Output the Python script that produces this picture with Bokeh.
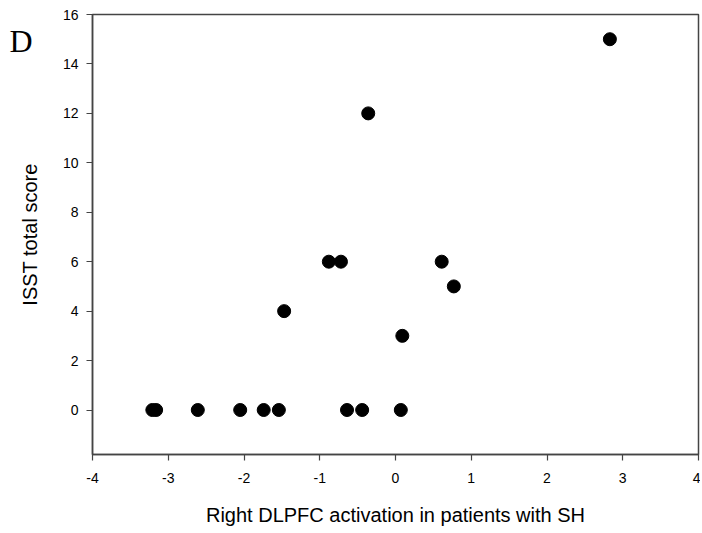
from bokeh.plotting import figure
from bokeh.models import Range1d, FixedTicker, LinearAxis
from bokeh.embed import file_html
from bokeh.resources import INLINE

# Data
activation = [-3.21, -3.16, -2.61, -2.05, -1.74, -1.54, -1.47, -0.88, -0.72,
              -0.64, -0.44, -0.36, 0.07, 0.09, 0.61, 0.77, 2.83]
isst_score = [0, 0, 0, 0, 0, 0, 4, 6, 6,
              0, 0, 12, 0, 3, 6, 5, 15]
x_ticks = [-4, -3, -2, -1, 0, 1, 2, 3, 4]
y_ticks = [0, 2, 4, 6, 8, 10, 12, 14, 16]
panel_letter = "D"
panel_letter_y = 14.93

FONT = "Liberation Sans"

p = figure(width=700, height=530, output_backend="svg", toolbar_location=None,
           x_range=Range1d(-4, 4), y_range=Range1d(-1.8, 16),
           min_border_left=92, min_border_right=2, min_border_top=14,
           min_border_bottom=76)

p.scatter(activation, isst_score, size=13, color="black")

p.xgrid.visible = False
p.ygrid.visible = False
p.outline_line_color = "#444444"
p.outline_line_width = 1.5
p.background_fill_color = "white"
p.border_fill_color = "white"

for ax in (p.xaxis[0], p.yaxis[0]):
    ax.axis_line_color = "#444444"
    ax.axis_line_width = 1.5
    ax.major_tick_line_color = "#444444"
    ax.major_tick_line_width = 1.2
    ax.major_tick_out = 6
    ax.major_tick_in = 0
    ax.minor_tick_line_color = None
    ax.major_label_text_font = FONT
    ax.major_label_text_font_size = "14px"
    ax.major_label_text_color = "black"
    ax.axis_label_text_font = FONT
    ax.axis_label_text_font_size = "20px"
    ax.axis_label_text_font_style = "normal"
    ax.axis_label_text_color = "black"

p.xaxis[0].ticker = FixedTicker(ticks=x_ticks)
p.yaxis[0].ticker = FixedTicker(ticks=y_ticks)
p.xaxis[0].major_label_overrides = {t: str(t) for t in x_ticks}
p.yaxis[0].major_label_overrides = {t: str(t) for t in y_ticks}
p.xaxis[0].major_label_standoff = 12
p.yaxis[0].major_label_standoff = 8
p.xaxis[0].axis_label = "Right DLPFC activation in patients with SH"
p.yaxis[0].axis_label = "ISST total score"
p.xaxis[0].axis_label_standoff = 18
p.yaxis[0].axis_label_standoff = 19

# Panel letter "D" as an outer, line-less axis label on the left side
letter_axis = LinearAxis(ticker=FixedTicker(ticks=[panel_letter_y]),
                         major_label_overrides={panel_letter_y: panel_letter},
                         axis_line_color=None, major_tick_line_color=None,
                         minor_tick_line_color=None, major_tick_out=0,
                         major_tick_in=0, major_label_standoff=-17,
                         major_label_text_font="Liberation Serif",
                         major_label_text_font_size="32px",
                         major_label_text_color="black")
p.add_layout(letter_axis, "left")

open("out.html", "w").write(file_html(p, INLINE))
